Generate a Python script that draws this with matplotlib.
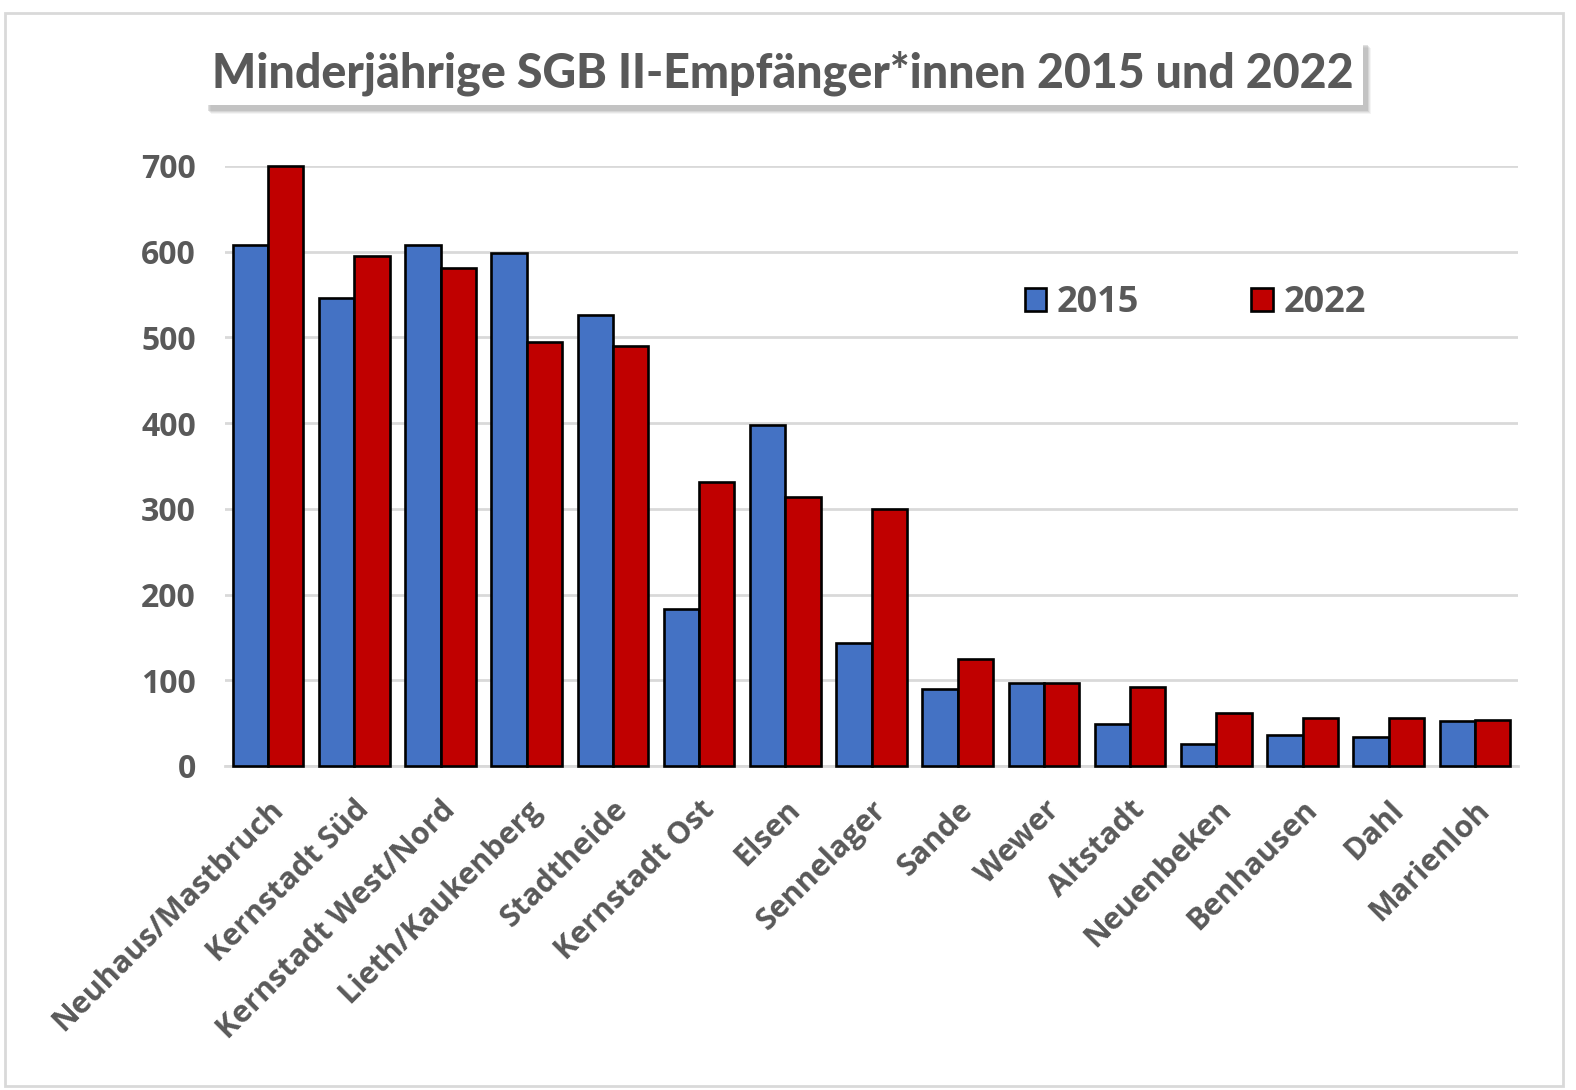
import numpy as np
import matplotlib.pyplot as plt
from matplotlib.patches import Rectangle

# Daten
stadtteile = ["Neuhaus/Mastbruch", "Kernstadt Süd", "Kernstadt West/Nord", "Lieth/Kaukenberg",
              "Stadtheide", "Kernstadt Ost", "Elsen", "Sennelager", "Sande", "Wewer",
              "Altstadt", "Neuenbeken", "Benhausen", "Dahl", "Marienloh"]
werte_2015 = [608, 546, 608, 598, 526, 183, 398, 143, 90, 97, 49, 26, 36, 34, 53]
werte_2022 = [700, 595, 581, 495, 490, 331, 314, 300, 125, 97, 92, 62, 56, 56, 54]
jahre = ["2015", "2022"]

blau = "#4472C4"
rot = "#C00000"
grau = "#595959"
schrift = ["Open Sans", "DejaVu Sans"]

fig = plt.figure(figsize=(15.76, 10.9), dpi=100)
ax = fig.add_axes([225 / 1576, 1 - 766 / 1090, 1293 / 1576, 600 / 1090])

x = np.arange(len(stadtteile))
b = 0.41
ax.bar(x - b / 2, werte_2015, b, color=blau, edgecolor="black", linewidth=1.9, label=jahre[0], zorder=3, clip_on=False)
ax.bar(x + b / 2, werte_2022, b, color=rot, edgecolor="black", linewidth=1.9, label=jahre[1], zorder=3, clip_on=False)

ax.set_xlim(-0.5, len(stadtteile) - 0.5)
ax.set_ylim(0, 700)
ax.set_yticks(range(0, 701, 100))
ax.grid(axis="y", color="#d9d9d9", linewidth=2, zorder=0)
for s in ["top", "right", "left"]:
    ax.spines[s].set_visible(False)
ax.spines["bottom"].set_color("#d9d9d9")
ax.spines["bottom"].set_linewidth(2)
ax.tick_params(axis="both", length=0)
ax.tick_params(axis="y", pad=21)
ax.set_xticks(x)
ax.set_xticklabels(stadtteile, rotation=45, ha="right", rotation_mode="anchor")
for lab in ax.get_yticklabels() + ax.get_xticklabels():
    lab.set_fontfamily(schrift)
    lab.set_fontweight("bold")
    lab.set_color(grau)
for lab in ax.get_yticklabels():
    lab.set_fontsize(23)
for lab in ax.get_xticklabels():
    lab.set_fontsize(22)
    lab.set_y(-0.04)

leg = ax.legend(loc="upper left", bbox_to_anchor=(767 / 1293, (766 - 253) / 600), ncol=2,
                frameon=False, columnspacing=3.1, handlelength=0.6, handleheight=0.6,
                handletextpad=0.3, prop={"family": schrift, "weight": "bold", "size": 26})
for t in leg.get_texts():
    t.set_color(grau)

# Titel mit weichem Schatten
for i, a in enumerate([0.10, 0.15, 0.2, 0.3]):
    d = 5 - i
    schatten = Rectangle(((206 + d) / 1576, 1 - (109 + d) / 1090), 1160 / 1576, 66 / 1090,
                         transform=fig.transFigure, facecolor="#9a9a9a", edgecolor="none", alpha=a)
    fig.patches.append(schatten)
box = Rectangle((203 / 1576, 1 - 105 / 1090), 1160 / 1576, 66 / 1090, transform=fig.transFigure,
                facecolor="white", edgecolor="none")
fig.patches.append(box)
fig.text(783 / 1576, 1 - 73 / 1090, "Minderjährige SGB II-Empfänger*innen 2015 und 2022",
         ha="center", va="center", fontsize=33.5, fontweight="black", color=grau,
         family=["Lato", "DejaVu Sans"])

# Rahmen
rahmen = Rectangle((5 / 1576, 4 / 1090), 1558 / 1576, 1073 / 1090, transform=fig.transFigure,
                   facecolor="none", edgecolor="#d9d9d9", linewidth=2)
fig.patches.append(rahmen)

fig.savefig("out.png", dpi=100)
